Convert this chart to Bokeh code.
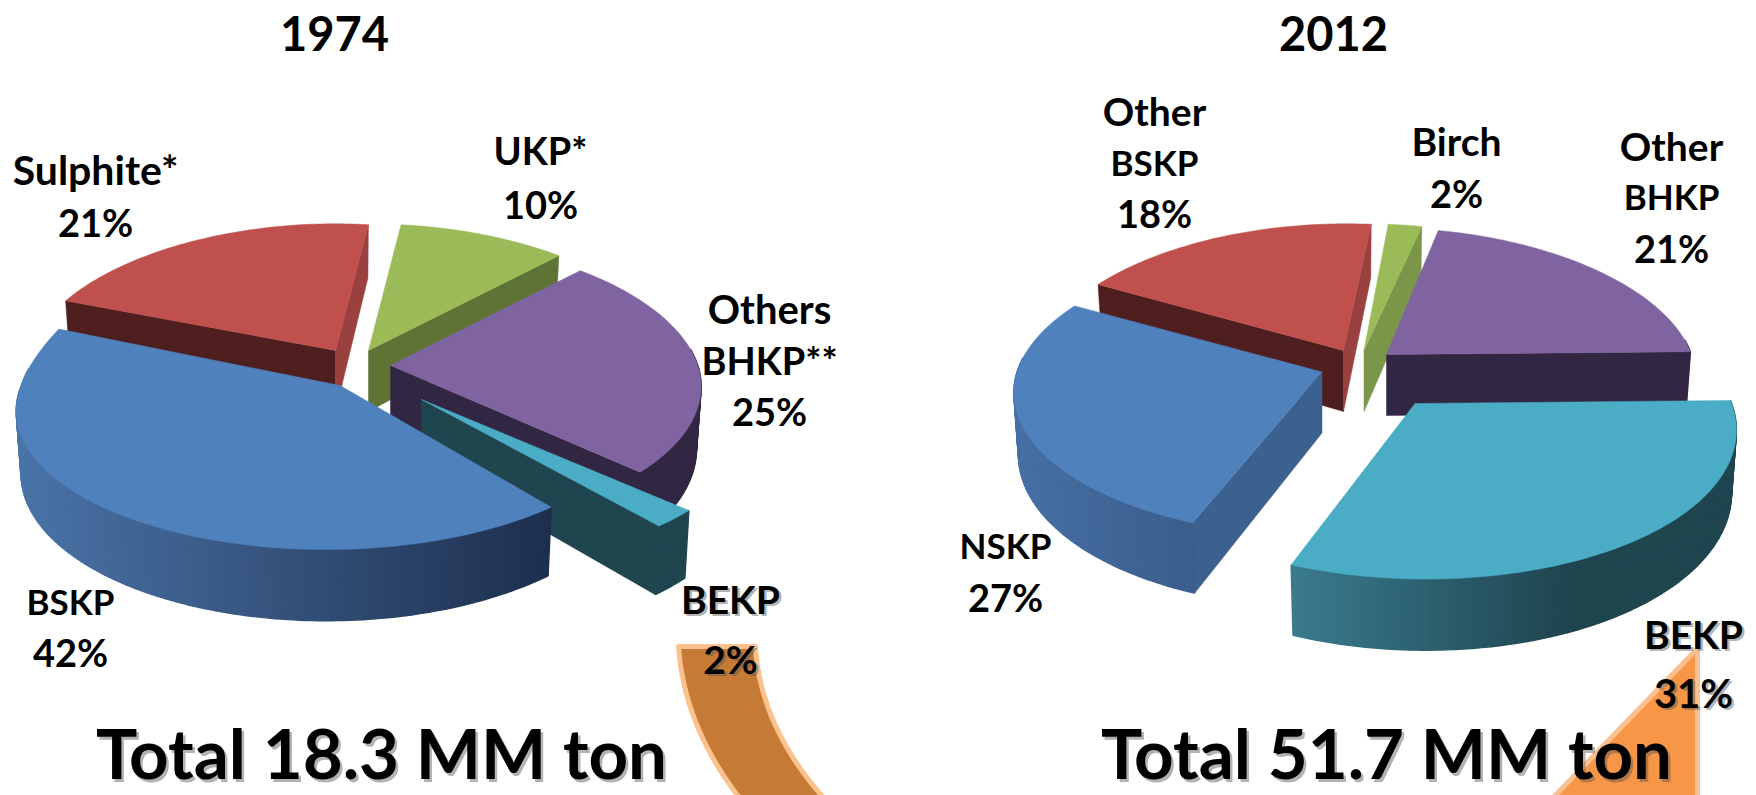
from bokeh.plotting import figure
from bokeh.models import Range1d
from bokeh.core.properties import value
from bokeh.embed import file_html
from bokeh.resources import INLINE
import numpy as np

# ---------- data ----------
names_1974 = ["UKP*", "Others BHKP**", "BEKP", "BSKP", "Sulphite*"]
values_1974 = [10, 25, 2, 42, 21]
names_2012 = ["Birch", "Other BHKP", "BEKP", "NSKP", "Other BSKP"]
values_2012 = [2, 21, 31, 27, 18]
title_1974 = "1974"
title_2012 = "2012"
total_1974 = "Total 18.3 MM ton"
total_2012 = "Total 51.7 MM ton"

# ---------- layout / style ----------
W, H = 1756, 795
BLUE, RED, GREEN, PURPLE, CYAN = "#4F81BD", "#C0504D", "#9BBB59", "#8064A2", "#4BACC6"
RY, K, DEPTH, BOTTOM, BACK = 140.6, 0.143, 61.0, 0.985, 0.03
DARK_P, DARK_R, LITE_R, DARK_G, LITE_G, DARK_C = "#322743", "#4E1F1E", "#9A403E", "#5F7335", "#7B9648", "#1F454F"


def sl(ax, ay, top, arc, cuts, rank, sc=1.0, sx=1.0, front=0.0, back=0.0, sat=1.0, yb=BACK):
    return dict(ax=ax, ay=ay, top=top, arc=arc, cuts=cuts, rank=rank, sc=sc, sx=sx,
                front=front, back=back, sat=sat, yb=yb)


style_1974 = {
    "UKP*": sl(368, 350, GREEN, (DARK_G, DARK_G), (DARK_G, DARK_G), 1, back=-2),
    "Others BHKP**": sl(390, 365, PURPLE, (DARK_P, DARK_P), (DARK_P, DARK_P), 2, back=-3),
    "BEKP": sl(421, 399, CYAN, (DARK_C, DARK_C), (DARK_C, DARK_C), 3, sc=1.04, sx=1.03),
    "BSKP": sl(339.5, 385, BLUE, ("#4A74A8", "#1E2F4E"), ("#1E2F4E", "#4A74A8"), 4, front=-12, yb=0.4),
    "Sulphite*": sl(335, 350, RED, (DARK_R, DARK_R), (DARK_R, LITE_R), 0, sx=0.96),
}
style_2012 = {
    "Birch": sl(1363.5, 350, GREEN, (LITE_G, LITE_G), (LITE_G, LITE_G), 1),
    "Other BHKP": sl(1386, 354, PURPLE, (DARK_P, DARK_P), (DARK_P, DARK_P), 2, back=-7),
    "BEKP": sl(1414.5, 403, CYAN, ("#3A7B8E", DARK_C), (DARK_C, "#3A7B8E"), 4, sc=1.07, sx=0.97,
               front=9, sat=0.62),
    "NSKP": sl(1321.5, 371.5, BLUE, ("#4670A5", "#3B5E8C"), ("#3C618E", "#3C618E"), 3),
    "Other BSKP": sl(1343, 350, RED, (DARK_R, DARK_R), (DARK_R, LITE_R), 0, back=4),
}


def mix(c0, c1, t):
    a = [int(c0[i:i + 2], 16) for i in (1, 3, 5)]
    b = [int(c1[i:i + 2], 16) for i in (1, 3, 5)]
    return "#%02x%02x%02x" % tuple(round(x + (y - x) * t) for x, y in zip(a, b))


def project(theta, st, rx, lean, low=False):
    t = np.radians(np.atleast_1d(theta))
    u, v = np.sin(t), -np.cos(t)
    w = 1 - K * v
    x = st["sc"] * (st["sx"] * rx * u * (1 - lean * u) + st["front"] * np.maximum(v, 0)
                    + st["back"] * np.maximum(-v, 0)) / w
    y = st["sc"] * RY * v / w * (1 + st["yb"] * np.maximum(-v, 0))
    d = DEPTH / w if low else 0
    f = BOTTOM if low else 1
    return st["ax"] + x * f, st["ay"] + y + d


def draw_pie(p, names, vals, style, start, rx, lean):
    total = float(sum(vals))
    a0 = start
    spans = {}
    for n, v in zip(names, vals):
        spans[n] = (a0, a0 + v / total * 360.0)
        a0 = spans[n][1]
    for n in sorted(names, key=lambda q: style[q]["rank"]):
        st = style[n]
        ax, ay = st["ax"], st["ay"]
        s, e = spans[n]
        th = np.linspace(s, e, max(int(e - s) + 2, 3))
        mx, my = project((s + e) / 2, st, rx, lean)
        # cut faces: only those turned towards the viewer
        for ang, col in zip((s, e), st["cuts"]):
            tx, ty = project(ang, st, rx, lean)
            bx, by = project(ang, st, rx, lean, low=True)
            ex, ey = tx[0] - ax, ty[0] - ay
            inner = ex * (my[0] - ay) - ey * (mx[0] - ax)
            if inner * ex < 0:
                p.patch([ax, tx[0], bx[0], ax], [ay, ty[0], by[0], ay + DEPTH],
                        fill_color=col, line_color=col, line_width=0.5)
        # outer rim, with its colour running across the visible part
        vis = th[-np.cos(np.radians(th)) > -0.12]
        if len(vis) > 1:
            xs_all = project(vis, st, rx, lean)[0]
            lo, hi = xs_all.min(), xs_all.max()
            qx, qy, qc = [], [], []
            for t0, t1 in zip(vis[:-1], vis[1:]):
                x0, y0 = project([t0, t1], st, rx, lean)
                x1, y1 = project([t1, t0], st, rx, lean, low=True)
                qx.append(list(x0) + list(x1))
                qy.append(list(y0) + list(y1))
                f = (x0.mean() - lo) / max(hi - lo, 1)
                qc.append(mix(st["arc"][0], st["arc"][1], min(f / st["sat"], 1)))
            p.patches(qx, qy, fill_color=qc, line_color=qc, line_width=1.4)
        # top
        tx, ty = project(th, st, rx, lean)
        p.patch([ax] + list(tx), [ay] + list(ty), fill_color=st["top"], line_color=st["top"], line_width=0.5)


p = figure(width=W, height=H, x_range=Range1d(0, W), y_range=Range1d(H, 0),
           output_backend="svg", toolbar_location=None, min_border=0,
           background_fill_color="white", outline_line_color=None)
p.xaxis.visible = False
p.yaxis.visible = False
p.grid.visible = False

draw_pie(p, names_1974, values_1974, style_1974, 7.2, 313, 0.018)
draw_pie(p, names_2012, values_2012, style_2012, 5.2, 305, 0.0)

# decorative call-out shapes under the texts
b = np.linspace(0, 1, 30)
lx = (1 - b) ** 2 * 678 + 2 * b * (1 - b) * 684 + b ** 2 * 745
ly = (1 - b) ** 2 * 646 + 2 * b * (1 - b) * 730 + b ** 2 * 805
rx_ = (1 - b) ** 2 * 755 + 2 * b * (1 - b) * 760 + b ** 2 * 830
ry_ = (1 - b) ** 2 * 646 + 2 * b * (1 - b) * 730 + b ** 2 * 805
p.patch(list(lx) + list(rx_[::-1]), list(ly) + list(ry_[::-1]),
        fill_color="#C57A36", line_color="#FBC28E", line_width=5, line_join="round")
p.patch([1695, 1697, 1697, 1545], [650, 650, 805, 805],
        fill_color="#F79646", line_color="#FBC08F", line_width=5, line_join="round")

FONT = value("Lato")


def label(lines, x, ys, sizes, shadow=False):
    for ln, y, size in zip(lines, ys, sizes):
        sz = f"{size}px"
        if shadow:
            p.text([x + 2.5], [y + 2.5], text=[ln], text_font=FONT, text_font_style="bold",
                   text_font_size=sz, text_color="#555555", text_alpha=0.45,
                   text_align="center", text_baseline="middle")
        p.text([x], [y], text=[ln], text_font=FONT, text_font_style="bold",
               text_font_size=sz, text_color="black",
               text_align="center", text_baseline="middle")


def pct(v):
    return f"{v}%"


label([title_1974], 334, [33], [47])
label([title_2012], 1333, [33], [47])
label(["Sulphite*", pct(values_1974[4])], 95, [169, 221], [41, 38])
label(["UKP*", pct(values_1974[0])], 540, [149, 203], [38, 38])
label(["Others", "BHKP**", pct(values_1974[1])], 769, [308, 359, 410], [40, 38, 38])
label(["BSKP", pct(values_1974[3])], 70, [600, 651], [35, 38])
label(["BEKP", pct(values_1974[2])], 730, [598, 658], [39, 39], shadow=True)
label([total_1974], 381, [752], [69], shadow=True)
label(["Other", "BSKP", pct(values_2012[4])], 1154, [110, 161, 212], [39, 35, 38])
label(["Birch", pct(values_2012[0])], 1456, [140, 192], [39, 38])
label(["Other", "BHKP", pct(values_2012[1])], 1671, [145, 195, 247], [39, 35, 38])
label(["NSKP", pct(values_2012[3])], 1005, [544, 596], [35, 38])
label(["BEKP", pct(values_2012[2])], 1693, [633, 692], [39, 40], shadow=True)
label([total_2012], 1386, [752], [69], shadow=True)

open("out.html", "w").write(file_html(p, INLINE))
